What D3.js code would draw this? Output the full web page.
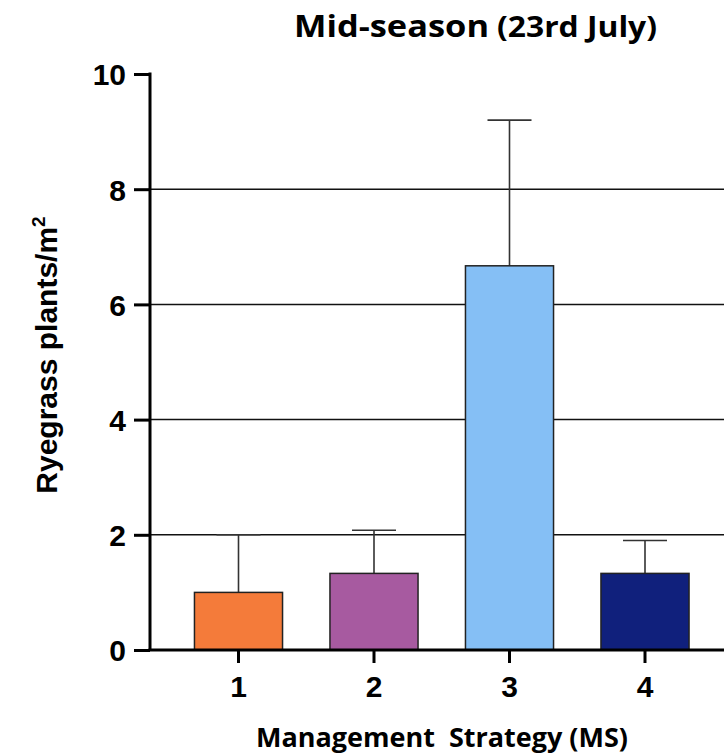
<!DOCTYPE html>
<html><head><meta charset="utf-8">
<script src="https://cdn.jsdelivr.net/npm/d3@7"></script>
<style>body{margin:0;background:#fff}svg{display:block}</style>
</head><body>
<script>
const categories = ["1","2","3","4"];
const means = [1.0, 1.33, 6.67, 1.33];
const errorTops = [2.0, 2.08, 9.2, 1.9];
const colors = ["#F47B3A","#A75AA0","#85BFF5","#10207C"];
const yTicks = [0,2,4,6,8,10];
const gridValues = [2,4,6,8];

const W = 724, H = 754;
const svg = d3.select("body").append("svg").attr("width", W).attr("height", H);

const y = d3.scaleLinear().domain([0,10]).range([650,74]);
const x = d3.scaleBand().domain(categories).range([170.75,712.75]).paddingInner(0.35).paddingOuter(0.175);
const axisX0 = 150;

// gridlines
svg.append("g").selectAll("line").data(gridValues).join("line")
  .attr("x1", axisX0).attr("x2", W)
  .attr("y1", d => y(d)).attr("y2", d => y(d))
  .attr("stroke", "#111").attr("stroke-width", 1.5);

// error bars
const eb = svg.append("g");
categories.forEach((c,i) => {
  const cx = x(c) + x.bandwidth()/2;
  eb.append("line").attr("x1",cx).attr("x2",cx).attr("y1",y(means[i])).attr("y2",y(errorTops[i]))
    .attr("stroke","#333").attr("stroke-width",1.6);
  eb.append("line").attr("x1",cx-22).attr("x2",cx+22).attr("y1",y(errorTops[i])).attr("y2",y(errorTops[i]))
    .attr("stroke","#333").attr("stroke-width",1.6);
});

// bars
svg.append("g").selectAll("rect").data(categories).join("rect")
  .attr("x", d => x(d)).attr("width", x.bandwidth())
  .attr("y", (d,i) => y(means[i])).attr("height", (d,i) => y(0) - y(means[i]))
  .attr("fill", (d,i) => colors[i]).attr("stroke", "#222").attr("stroke-width", 1.5);

// y axis
const yAxis = d3.axisLeft(y).tickValues(yTicks).tickSize(16).tickPadding(8).tickFormat(d3.format("d"));
const gy = svg.append("g").attr("transform", `translate(${axisX0},0)`).call(yAxis);
gy.select(".domain").attr("stroke","#000").attr("stroke-width",3).attr("d", `M0,${y(10)-1.5}V${y(0)}`);
gy.selectAll(".tick line").attr("stroke","#000").attr("stroke-width",3);
gy.selectAll(".tick text").attr("font-family","Liberation Sans, Arial, sans-serif")
  .attr("font-weight","bold").attr("font-size",30).attr("fill","#000").attr("dy","0.36em");

// x axis
const xAxis = d3.axisBottom(x).tickSize(13).tickPadding(13);
const gx = svg.append("g").attr("transform", `translate(0,${y(0)})`).call(xAxis);
gx.select(".domain").attr("stroke","#000").attr("stroke-width",3).attr("d", `M${axisX0-1.5},0H${W}`);
gx.selectAll(".tick line").attr("stroke","#000").attr("stroke-width",3);
gx.selectAll(".tick text").attr("font-family","Liberation Sans, Arial, sans-serif")
  .attr("font-weight","bold").attr("font-size",30).attr("fill","#000");

// title
svg.append("text").attr("x", 294).attr("y", 37)
  .attr("font-family","Open Sans, Lato, sans-serif").attr("font-weight","bold").attr("fill","#000")
  .attr("font-size",31).attr("textLength",195).attr("lengthAdjust","spacingAndGlyphs").text("Mid-season");
svg.append("text").attr("x", 497).attr("y", 37)
  .attr("font-family","Open Sans, Lato, sans-serif").attr("font-weight","bold").attr("fill","#000")
  .attr("font-size",28).attr("textLength",160).attr("lengthAdjust","spacingAndGlyphs").text("(23rd July)");

// y label
const yl = svg.append("text").attr("transform","translate(57,355) rotate(-90)").attr("text-anchor","middle")
  .attr("font-family","Liberation Sans, Arial, sans-serif").attr("font-weight","bold").attr("font-size",30).attr("fill","#000");
yl.append("tspan").text("Ryegrass plants/m");
yl.append("tspan").attr("font-size",19).attr("dy","-12").text("2");

// x label
svg.append("text").attr("x", 256).attr("y", 747)
  .attr("font-family","Open Sans, Lato, sans-serif").attr("font-weight","bold").attr("font-size",26).attr("fill","#000")
  .attr("xml:space","preserve").attr("textLength",372).attr("lengthAdjust","spacingAndGlyphs").text("Management  Strategy (MS)");
</script>
</body></html>
